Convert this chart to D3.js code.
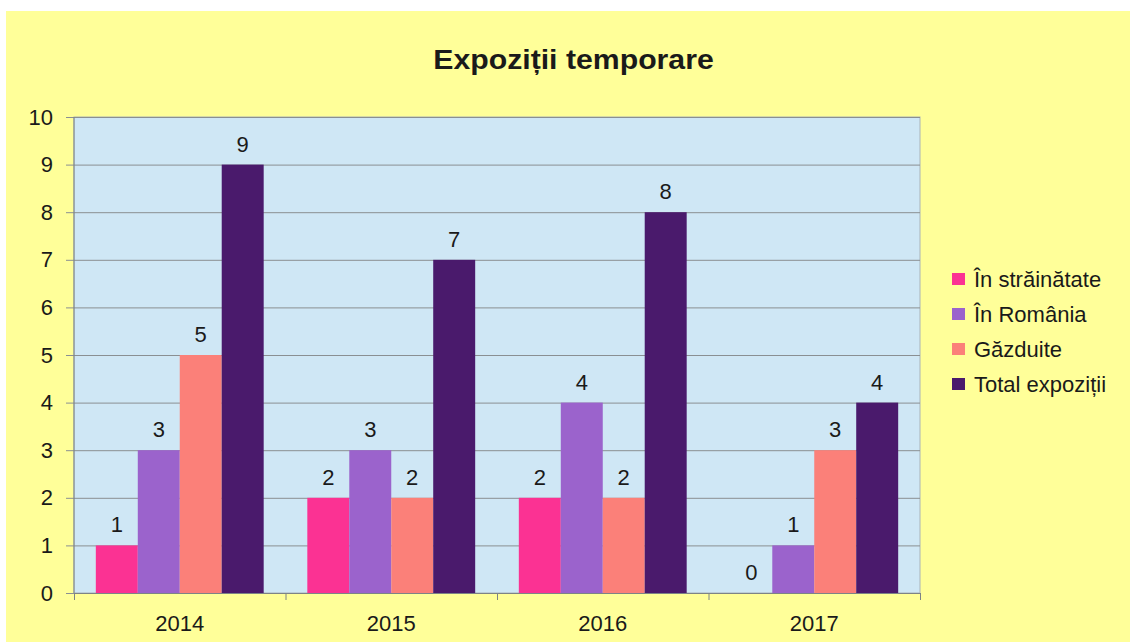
<!DOCTYPE html>
<html>
<head>
<meta charset="utf-8">
<script src="https://cdn.jsdelivr.net/npm/d3@7"></script>
<style>
  body { margin: 0; background: #ffffff; }
  svg text { font-family: "Liberation Sans", Arial, sans-serif; fill: #1a1a1a; }
</style>
</head>
<body>
<script>
// chart data
var years = ["2014", "2015", "2016", "2017"];
var seriesNames = ["În străinătate", "În România", "Găzduite", "Total expoziții"];
var strainatate = [1, 2, 2, 0];
var romania = [3, 3, 4, 1];
var gazduite = [5, 2, 2, 3];
var total = [9, 7, 8, 4];
var yTicks = [0, 1, 2, 3, 4, 5, 6, 7, 8, 9, 10];
var colors = ["#fb3293", "#9b63cc", "#fb8079", "#4a1a6c"];

(function(){
    var width = 1130, height = 642;
    var plot = {left: 74, right: 920, top: 117, bottom: 593};

    var svg = d3.select("body").append("svg")
        .attr("width", width)
        .attr("height", height);

    //yellow page background (white strip at top/left like the original)
    svg.append("rect")
        .attr("x", 6).attr("y", 11)
        .attr("width", width - 6).attr("height", height - 11)
        .attr("fill", "#ffff99");

    var values = [strainatate, romania, gazduite, total];
    var data = years.map(function(y, i){
        return {year: y, vals: values.map(function(v){ return v[i]; })};
    });

    var x0 = d3.scaleBand().domain(years).range([plot.left, plot.right]);
    var x1 = d3.scaleBand().domain(d3.range(seriesNames.length))
        .range([0, x0.bandwidth()])
        .paddingInner(0).paddingOuter(0.52);
    var y = d3.scaleLinear().domain([0, 10]).range([plot.bottom, plot.top]);

    //plot area
    svg.append("rect")
        .attr("x", plot.left).attr("y", plot.top)
        .attr("width", plot.right - plot.left)
        .attr("height", plot.bottom - plot.top)
        .attr("fill", "#cfe7f5")
        .attr("stroke", "#a9b3b8");

    //gridlines + y labels
    var yAxis = svg.append("g")
        .attr("transform", "translate(" + (plot.left - 8) + ",0)")
        .call(d3.axisLeft(y).tickValues(yTicks)
            .tickSizeInner(-(plot.right - plot.left + 8)).tickSizeOuter(0)
            .tickPadding(13));
    yAxis.select(".domain").remove();
    yAxis.selectAll("line").attr("stroke", "#8a8f92");
    yAxis.selectAll("text")
        .style("font-size", "22px")
        .style("fill", "#1a1a1a");
    yAxis.attr("font-family", null);

    //bars
    var groups = svg.selectAll(".grp")
        .data(data)
        .enter()
        .append("g")
        .attr("class", "grp")
        .attr("transform", function(d){ return "translate(" + x0(d.year) + ",0)"; });

    groups.selectAll("rect")
        .data(function(d){ return d.vals; })
        .enter()
        .append("rect")
        .attr("x", function(d, i){ return x1(i); })
        .attr("y", function(d){ return y(d); })
        .attr("width", x1.bandwidth())
        .attr("height", function(d){ return y(0) - y(d); })
        .attr("fill", function(d, i){ return colors[i]; });

    groups.selectAll(".lbl")
        .data(function(d){ return d.vals; })
        .enter()
        .append("text")
        .attr("class", "lbl")
        .attr("x", function(d, i){ return x1(i) + x1.bandwidth() / 2; })
        .attr("y", function(d){ return y(d) - 13; })
        .attr("text-anchor", "middle")
        .style("font-size", "22px")
        .text(function(d){ return d; });

    //left axis line
    svg.append("line")
        .attr("x1", plot.left).attr("x2", plot.left)
        .attr("y1", plot.top).attr("y2", plot.bottom)
        .attr("stroke", "#7d8386");

    //x axis: ticks at category edges
    var xEdge = d3.scaleLinear().domain([0, years.length]).range([plot.left, plot.right]);
    var xTicks = svg.append("g")
        .attr("transform", "translate(0," + plot.bottom + ")")
        .call(d3.axisBottom(xEdge).tickValues(d3.range(years.length + 1))
            .tickSize(7).tickFormat(""));
    xTicks.selectAll("line, path").attr("stroke", "#7d8386");

    var xLabels = svg.append("g")
        .attr("transform", "translate(0," + plot.bottom + ")")
        .call(d3.axisBottom(x0).tickSize(0).tickPadding(22));
    xLabels.select(".domain").remove();
    xLabels.selectAll("text")
        .style("font-size", "22px")
        .style("fill", "#1a1a1a");
    xLabels.attr("font-family", null);

    //title
    svg.append("text")
        .style("transform-box", "fill-box")
        .style("transform-origin", "50% 50%")
        .style("transform", "scaleX(1.12)")
        .attr("x", 573.5).attr("y", 69)
        .attr("text-anchor", "middle")
        .style("font-size", "27px")
        .style("font-weight", "bold")
        .text("Expoziții temporare");

    //legend
    var legend = svg.selectAll(".leg")
        .data(seriesNames)
        .enter()
        .append("g")
        .attr("class", "leg")
        .attr("transform", function(d, i){ return "translate(952," + (279 + i * 35) + ")"; });

    legend.append("rect")
        .attr("x", 0).attr("y", -6)
        .attr("width", 13).attr("height", 12)
        .attr("fill", function(d, i){ return colors[i]; });

    legend.append("text")
        .attr("x", 22).attr("y", 8)
        .style("font-size", "22px")
        .text(function(d){ return d; });
})();
</script>
</body>
</html>
